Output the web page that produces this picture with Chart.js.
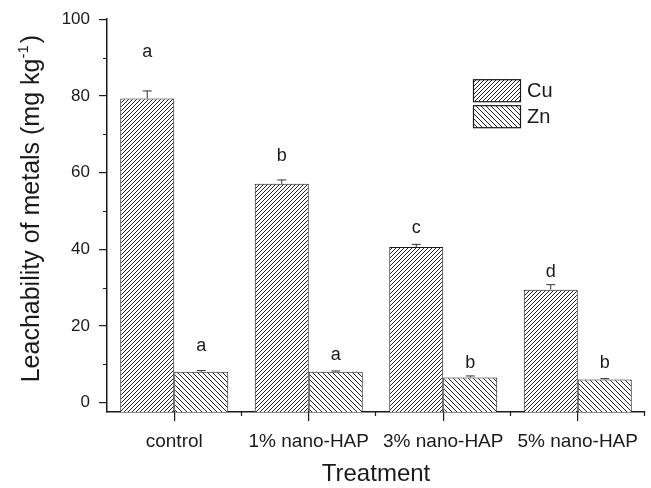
<!DOCTYPE html>
<html>
<head>
<meta charset="utf-8">
<script src="https://cdn.jsdelivr.net/npm/chart.js@4.4.1/dist/chart.umd.min.js"></script>
<style>
  html, body { margin: 0; padding: 0; background: #fff; }
  #chart { display: block; }
</style>
</head>
<body>
<canvas id="chart" width="651" height="488"></canvas>
<script>
// --- data ---
const categories = ['control', '1% nano-HAP', '3% nano-HAP', '5% nano-HAP'];
const cuValues = [79.3, 57.1, 40.6, 29.5];
const cuErrors = [2.0, 1.0, 0.7, 1.3];
const znValues = [8.1, 8.1, 6.6, 6.1];
const znErrors = [0.3, 0.2, 0.4, 0.2];
const cuLetters = ['a', 'b', 'c', 'd'];
const cuLetterAt = [91.4, 64.2, 45.5, 34.0];
const znLetters = ['a', 'a', 'b', 'b'];
const znLetterAt = [14.8, 12.5, 10.4, 10.4];
const yTicks = [0, 20, 40, 60, 80, 100];
const yMinorTicks = [10, 30, 50, 70, 90];
const yMin = -2.4, yMax = 100;

const FONT = 'Arial, "Liberation Sans", sans-serif';
const INK = '#1a1a1a';

function hatch(size, forward){
  const c = document.createElement('canvas');
  c.width = size; c.height = size;
  const g = c.getContext('2d');
  g.fillStyle = '#fff';
  g.fillRect(0, 0, size, size);
  g.strokeStyle = '#222';
  g.lineWidth = 1;
  g.beginPath();
  for(let k = -1; k <= 1; k++){
    if(forward){
      g.moveTo(k*size, size); g.lineTo(k*size + size, 0);
    }else{
      g.moveTo(k*size, 0); g.lineTo(k*size + size, size);
    }
  }
  g.stroke();
  return g.createPattern(c, 'repeat');
}

const cuFill = hatch(4, true);
const znFill = hatch(5, false);

// error bars, significance letters, minor ticks, legend, y title
const extras = {
  id: 'extras',
  afterDatasetsDraw(chart){
    const ctx = chart.ctx;
    const y = chart.scales.y;
    const area = chart.chartArea;
    const sets = [
      { vals: cuValues, errs: cuErrors, letters: cuLetters, at: cuLetterAt },
      { vals: znValues, errs: znErrors, letters: znLetters, at: znLetterAt }
    ];
    ctx.save();
    sets.forEach((s, di) => {
      const meta = chart.getDatasetMeta(di);
      meta.data.forEach((bar, i) => {
        const top = y.getPixelForValue(s.vals[i]);
        const hi = y.getPixelForValue(s.vals[i] + s.errs[i]);
        ctx.strokeStyle = '#333';
        ctx.lineWidth = 1;
        ctx.beginPath();
        ctx.moveTo(bar.x, top); ctx.lineTo(bar.x, hi);
        ctx.moveTo(bar.x - 4.5, hi); ctx.lineTo(bar.x + 4.5, hi);
        ctx.stroke();
        ctx.fillStyle = INK;
        ctx.font = '18px ' + FONT;
        ctx.textAlign = 'center';
        ctx.textBaseline = 'middle';
        ctx.fillText(s.letters[i], bar.x, y.getPixelForValue(s.at[i]));
      });
    });

    // minor ticks
    ctx.strokeStyle = INK;
    ctx.lineWidth = 1.2;
    ctx.beginPath();
    yMinorTicks.forEach(v => {
      const py = Math.round(y.getPixelForValue(v)) + 0.5;
      ctx.moveTo(area.left - 4, py); ctx.lineTo(area.left, py);
    });
    const step = (area.right - area.left) / categories.length;
    for(let i = 1; i <= categories.length; i++){
      const px = Math.round(area.left + i*step) - 0.5;
      ctx.moveTo(px, area.bottom); ctx.lineTo(px, area.bottom + 4);
    }
    ctx.stroke();

    // legend
    const lx = area.right - 172, ly = area.top + 60;
    chart.data.datasets.forEach((ds, i) => {
      const by = ly + i*26;
      ctx.fillStyle = ds.backgroundColor;
      ctx.fillRect(lx, by, 47, 22);
      ctx.strokeStyle = INK;
      ctx.lineWidth = 1.2;
      ctx.strokeRect(lx + 0.5, by + 0.5, 47, 22);
      ctx.fillStyle = INK;
      ctx.font = '20px ' + FONT;
      ctx.textAlign = 'left';
      ctx.textBaseline = 'middle';
      ctx.fillText(ds.label, lx + 54, by + 12);
    });

    // y title with superscript
    ctx.translate(30, (area.top + area.bottom)/2 - 7);
    ctx.rotate(-Math.PI/2);
    const main = 'Leachability of metals (mg kg';
    const sup = '-1';
    const close = ')';
    ctx.font = '25px ' + FONT;
    const wMain = ctx.measureText(main).width;
    const wClose = ctx.measureText(close).width;
    ctx.font = '15px ' + FONT;
    const wSup = ctx.measureText(sup).width;
    let sx = -(wMain + wSup + wClose + 2)/2;
    ctx.fillStyle = INK;
    ctx.textAlign = 'left';
    ctx.textBaseline = 'alphabetic';
    ctx.font = '25px ' + FONT;
    ctx.fillText(main, sx, 9);
    sx += wMain;
    ctx.font = '15px ' + FONT;
    ctx.fillText(sup, sx, -2);
    sx += wSup;
    ctx.font = '25px ' + FONT;
    ctx.fillText(close, sx + 2, 9);
    ctx.restore();
  }
};

new Chart(document.getElementById('chart'), {
  type: 'bar',
  data: {
    labels: categories,
    datasets: [
      { label: 'Cu', data: cuValues, base: yMin, backgroundColor: cuFill,
        borderColor: INK, borderWidth: 1, borderSkipped: 'bottom' },
      { label: 'Zn', data: znValues, base: yMin, backgroundColor: znFill,
        borderColor: INK, borderWidth: 1, borderSkipped: 'bottom' }
    ]
  },
  options: {
    responsive: false,
    animation: false,
    layout: { padding: { top: 19, right: 6, left: 0, bottom: 0 } },
    datasets: { bar: { categoryPercentage: 0.803, barPercentage: 1.0 } },
    plugins: { legend: { display: false }, tooltip: { enabled: false } },
    scales: {
      x: {
        offset: true,
        grid: { offset: false, drawOnChartArea: false, drawTicks: true, tickLength: 9, color: INK, lineWidth: 1.2 },
        border: { display: true, color: INK, width: 1.5 },
        ticks: { color: INK, font: { family: FONT, size: 19 }, padding: 9, maxRotation: 0, autoSkip: false },
        title: { display: true, text: 'Treatment', color: INK, font: { family: FONT, size: 24, lineHeight: 1 }, padding: { top: 0, bottom: 2 } },
        afterFit(scale){ scale.height = 76; }
      },
      y: {
        min: yMin, max: yMax,
        afterBuildTicks(scale){ scale.ticks = yTicks.map(v => ({ value: v })); },
        grid: { drawOnChartArea: false, drawTicks: true, tickLength: 8, color: INK, lineWidth: 1.2 },
        border: { display: true, color: INK, width: 1.5 },
        ticks: { color: INK, font: { family: FONT, size: 17 }, padding: 9 },
        afterFit(scale){ scale.width = 107; }
      }
    }
  },
  plugins: [extras]
});
</script>
</body>
</html>
